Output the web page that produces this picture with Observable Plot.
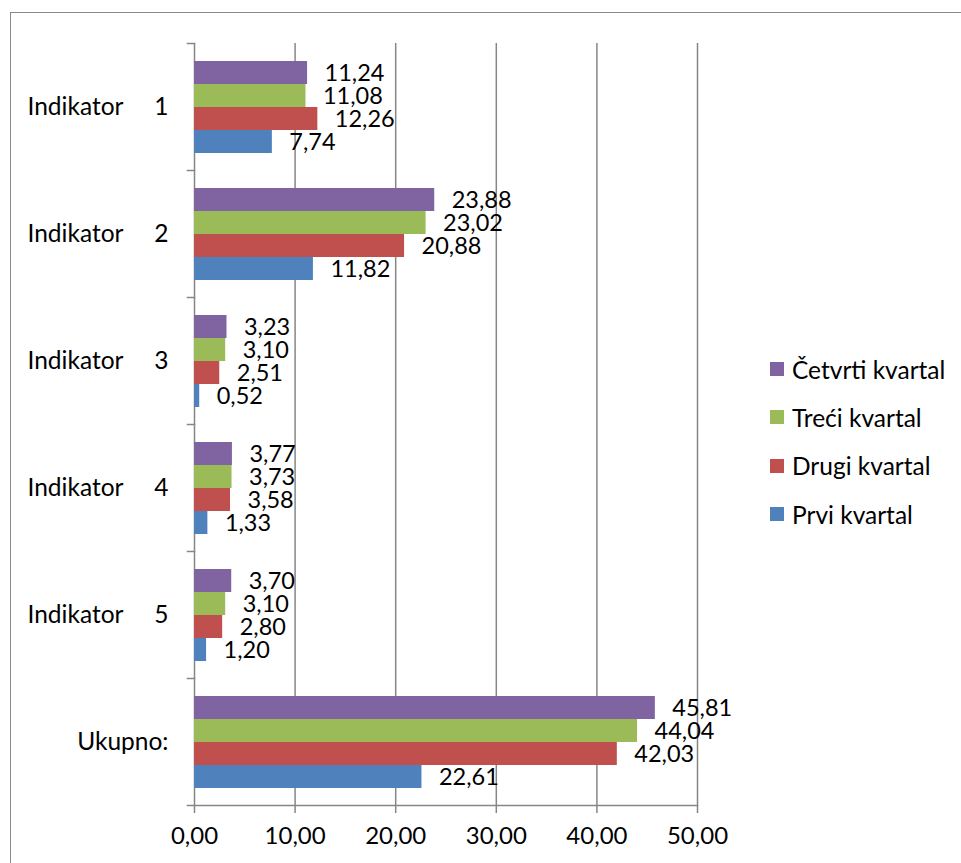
<!DOCTYPE html>
<html>
<head>
<meta charset="utf-8">
<script src="https://cdn.jsdelivr.net/npm/d3@7"></script>
<script src="https://cdn.jsdelivr.net/npm/@observablehq/plot@0.6"></script>
<style>
  html, body { margin: 0; padding: 0; background: #fff; overflow: hidden; }
  #wrap { position: relative; width: 961px; height: 863px; font-family: Lato, sans-serif; }
  #border { position: absolute; left: 10px; top: 12px; width: 1200px; height: 1200px; border: 1.5px solid #8a8a8a; pointer-events: none; z-index: 2; }
  #legend { position: absolute; left: 770px; top: 345px; font-size: 24.5px; color: #000; z-index: 3; }
  #legend .item { display: flex; align-items: center; height: 48.3px; }
  #legend .sw { width: 14px; height: 14px; margin-right: 8px; }
  svg { background: transparent !important; }
</style>
</head>
<body>
<div id="wrap">
  <div id="chart"></div>
  <div id="legend"></div>
  <div id="border"></div>
</div>
<script>
const categories = ["Indikator 1", "Indikator 2", "Indikator 3", "Indikator 4", "Indikator 5", "Ukupno:"];
const seriesNames = ["Četvrti kvartal", "Treći kvartal", "Drugi kvartal", "Prvi kvartal"];
const seriesColors = ["#8064A2", "#9BBB59", "#C0504D", "#4F81BD"];
const prvi    = [7.74, 11.82, 0.52, 1.33, 1.20, 22.61];
const drugi   = [12.26, 20.88, 2.51, 3.58, 2.80, 42.03];
const treci   = [11.08, 23.02, 3.10, 3.73, 3.10, 44.04];
const cetvrti = [11.24, 23.88, 3.23, 3.77, 3.70, 45.81];
const xTicks = [0, 10, 20, 30, 40, 50];

const seriesValues = [cetvrti, treci, drugi, prvi];
const data = [];
categories.forEach((c, i) => {
  seriesNames.forEach((s, j) => {
    data.push({category: c, series: s, value: seriesValues[j][i]});
  });
});

const fmt = d => d.toFixed(2).replace(".", ",");
const catLabel = c => c.startsWith("Indikator") ? c.replace(" ", "\u00A0\u00A0\u00A0\u00A0\u00A0") : c;
const gray = "#868686";

const chart = Plot.plot({
  width: 961,
  height: 863,
  marginLeft: 194,
  marginRight: 264,
  marginTop: 43,
  marginBottom: 58,
  style: {fontFamily: "Lato, sans-serif", fontSize: "24px", color: "#000", background: "transparent"},
  x: {domain: [0, 50], axis: null},
  y: {domain: seriesNames, paddingInner: 0, paddingOuter: 0.76, axis: null},
  fy: {domain: categories, padding: 0, axis: null},
  color: {domain: seriesNames, range: seriesColors},
  marks: [
    Plot.gridX({ticks: xTicks, stroke: gray, strokeOpacity: 1, strokeWidth: 1.5}),
    Plot.frame({anchor: "top", stroke: gray, strokeWidth: 1.5, insetLeft: -7, insetRight: 503}),
    Plot.frame({anchor: "bottom", facetAnchor: "bottom", stroke: gray, strokeWidth: 1.5, insetLeft: -7}),
    Plot.barX(data, {fy: "category", y: "series", x: "value", fill: "series"}),
    Plot.text(data, {fy: "category", y: "series", x: "value", text: d => fmt(d.value), textAnchor: "start", dx: 17, fill: "#000", fontSize: 23.5}),
    Plot.axisX({ticks: xTicks, tickSize: 8, tickPadding: 13, tickFormat: fmt, stroke: gray, strokeWidth: 1.5, label: null, fill: "#000"}),
    Plot.axisFy({anchor: "left", tickSize: 0, tickPadding: 26, tickFormat: catLabel, label: null, fill: "#000", fontSize: 24.5})
  ]
});
document.getElementById("chart").appendChild(chart);

const legend = document.getElementById("legend");
seriesNames.forEach((s, j) => {
  const item = document.createElement("div");
  item.className = "item";
  const sw = document.createElement("span");
  sw.className = "sw";
  sw.style.background = seriesColors[j];
  const t = document.createElement("span");
  t.textContent = s;
  item.appendChild(sw);
  item.appendChild(t);
  legend.appendChild(item);
});
</script>
</body>
</html>
